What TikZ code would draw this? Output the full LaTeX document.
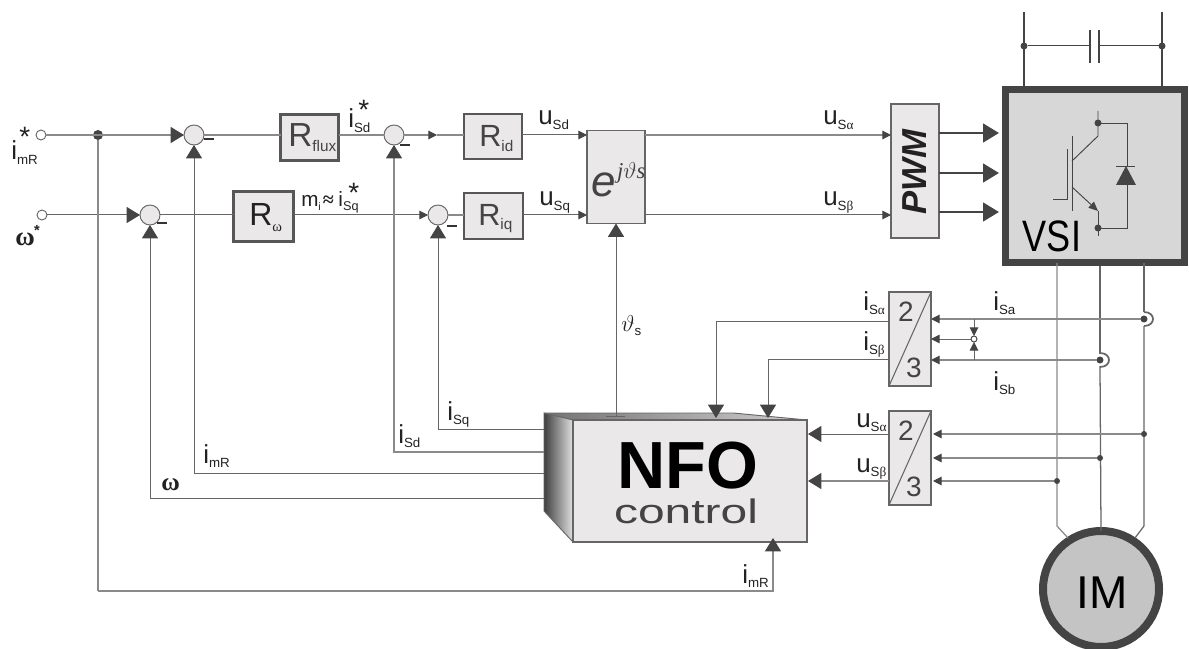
\documentclass[tikz,border=0pt]{standalone}
\usepackage{fontspec}
\setmainfont{Liberation Sans}
\newfontfamily\grfont{Liberation Serif}
\usetikzlibrary{arrows.meta,calc}
\definecolor{linec}{HTML}{666666}
\definecolor{lightl}{HTML}{8A8A8A}
\definecolor{tipc}{HTML}{444444}
\definecolor{boxf}{HTML}{EAE8E9}
\definecolor{txtc}{HTML}{222222}
\definecolor{dark}{HTML}{444444}
\newcommand{\fs}[1]{\fontsize{#1}{#1}\selectfont}
\newcommand{\lb}[2]{{\fs{19.5}#1}\raisebox{-3.6pt}{\fs{10}#2}}
\newcommand{\starat}[2]{\rlap{\hspace{#1}\raisebox{#2}{\fs{21}*}}}
\newcommand{\ga}{{\grfont α}}
\newcommand{\gb}{{\grfont β}}
\tikzset{
  x=0.75pt,y=-0.75pt,
  wire/.style={draw=linec,line width=0.75pt},
  lwire/.style={draw=lightl,line width=0.85pt},
  bigtip/.style={-{Triangle[length=10pt,width=12pt,color=tipc]}},
  smalltip/.style={-{Triangle[length=6.5pt,width=6.5pt,color=tipc]}},
  thicktip/.style={draw=tipc,line width=2pt,-{Triangle[length=12pt,width=14pt,color=tipc]}},
  sz/.style 2 args={minimum width=#1*0.75pt,minimum height=#2*0.75pt},
  bx/.style={draw=linec,fill=boxf,line width=0.9pt,inner sep=0pt,outer sep=0pt},
  rbox/.style={draw=dark!90,fill=boxf,line width=2pt,inner sep=0pt,outer sep=0pt},
  sumc/.style={circle,draw=linec,fill=boxf,line width=0.7pt,minimum size=15pt,inner sep=0pt,outer sep=0pt},
  inc/.style={circle,draw=linec,fill=white,line width=0.7pt,minimum size=7.5pt,inner sep=0pt,outer sep=0pt},
  dotn/.style={circle,fill=tipc,minimum size=#1*0.75pt,inner sep=0pt,outer sep=0pt},
  lab/.style={anchor=base west,inner sep=0pt,text=txtc},
  dtext/.style={anchor=base west,inner sep=0pt,text=dark},
  minus/.style={draw=black!80,line width=0.8pt},
}
\begin{document}
\begin{tikzpicture}
\useasboundingbox (0,0) rectangle (1189,649);
% ---------- blocks
\node[inc] (in1) at (41,135) {};
\node[inc] (in2) at (42,215) {};
\node[dotn=10] (j1) at (98,135) {};
\node[sumc] (sum1) at (194,135) {};
\node[sumc] (sum2) at (394,135) {};
\node[sumc] (sum3) at (150,215) {};
\node[sumc] (sum4) at (438,215) {};
\node[rbox,sz={58}{46}] (rflux) at (309.5,137.5) {};
\node[rbox,sz={60}{50}] (rw) at (263.5,216.5) {};
\node[rbox,sz={58}{45}] (rid) at (493,136.5) {};
\node[rbox,sz={59}{46}] (riq) at (493.5,216) {};
\node[bx,sz={58}{93}] (ejt) at (616,177) {};
\node[bx,sz={48}{134}] (pwm) at (915,171) {};
\node[draw=dark,fill=black!15.5,line width=5pt,inner sep=0pt,outer sep=0pt,sz={179.5}{173.5}] (vsi) at (1095,176) {};
\node[circle,draw=dark,fill=black!23,line width=6pt,inner sep=0pt,outer sep=0pt,minimum size=87pt] (im) at (1101,589) {};
\node[bx,sz={42}{94}] (ta) at (910,339) {};
\node[bx,sz={42}{94}] (tb) at (910,458) {};
\draw[linec,line width=0.8pt] (ta.south west) -- (ta.north east);
\draw[linec,line width=0.8pt] (tb.south west) -- (tb.north east);
% NFO block
\coordinate (nl1) at (544,413);
\coordinate (nl2) at (573,420);
\coordinate (nl3) at (573,542);
\coordinate (nl4) at (544,511);
\coordinate (nt2) at (733,413);
\coordinate (nt3) at (807,420);
\shade[left color=black!75,right color=black!12] (nl1) -- (nl2) -- (nl3) -- (nl4) -- cycle;
\shade[left color=black!55,right color=black!18] (nl1) -- (nt2) -- (nt3) -- (nl2) -- cycle;
\draw[linec,line width=0.7pt] (nl1) -- (nl2) -- (nl3) -- (nl4) -- cycle;
\draw[linec,line width=0.7pt] (nl1) -- (nt2) -- (nt3);
\node[bx,sz={234}{122}] (nfo) at (690,481) {};
% ---------- forward path
\draw[lwire,bigtip] (in1) -- (sum1);
\draw[lwire] (sum1) -- (sum1 -| rflux.west);
\draw[lwire] (sum2 -| rflux.east) -- (sum2);
\coordinate (t2) at (437,135);
\draw[lwire,smalltip] (sum2) -- (t2);
\draw[lwire] (t2) -- (t2 -| rid.west);
\draw[wire,bigtip] (in2) -- (sum3);
\draw[wire] (sum3) -- (sum3 -| rw.west);
\draw[wire,smalltip] (sum4 -| rw.east) -- (sum4);
\draw[lwire] (sum4) -- (sum4 -| riq.west);
\draw[wire,smalltip] (t2 -| rid.east) -- (t2 -| ejt.west);
\draw[wire,smalltip] (sum4 -| riq.east) -- (sum4 -| ejt.west);
\draw[lwire,smalltip] (t2 -| ejt.east) -- (t2 -| pwm.west);
\draw[wire,smalltip] (sum4 -| ejt.east) -- (sum4 -| pwm.west);
\coordinate (va) at (999,133);
\coordinate (vb) at (999,173);
\coordinate (vc) at (999,212);
\draw[thicktip] (va -| pwm.east) -- (va);
\draw[thicktip] (vb -| pwm.east) -- (vb);
\draw[thicktip] (vc -| pwm.east) -- (vc);
% ---------- feedback
\coordinate (c1) at (98,591);
\coordinate (imrt) at (773,538);
\draw[lwire] (j1) -- (c1);
\draw[lwire,bigtip] (c1) -| (imrt);
\coordinate (fq) at (544,429);
\coordinate (fd) at (544,452);
\coordinate (fm) at (544,473);
\coordinate (fw) at (544,498);
\draw[wire,bigtip] (fq) -| (sum4);
\draw[lwire,bigtip] (fd) -| (sum2);
\draw[wire,bigtip] (fm) -| (sum1);
\draw[wire,bigtip] (fw) -| (sum3);
\coordinate (th) at (616,416);
\draw[wire,bigtip] (th) -- (ejt.south);
\draw[wire] (606,416) -- (625,416);
\coordinate (na) at (716,418);
\coordinate (nb) at (768,418);
\draw[wire,bigtip] (ta.west |- 0,321) -| (na);
\draw[wire,bigtip] (ta.west |- 0,359) -| (nb);
\coordinate (ua) at (808,434);
\coordinate (ub) at (808,481);
\draw[wire,bigtip] (ua -| tb.west) -- (ua);
\draw[lwire,bigtip] (ub -| tb.west) -- (ub);
% ---------- power lines
\coordinate (p1) at (1057,526);
\coordinate (p3) at (1144,526);
\coordinate (m1) at (1068,538);
\coordinate (m3) at (1135,538);
\draw[lightl,line width=0.95pt] (p1 |- vsi.south) -- (p1) -- (m1);
\draw[linec,line width=0.95pt] (1100,266) -- (1100,354);
\draw[linec,line width=0.95pt] (1100,366) -- (im.north);
\draw[linec,line width=0.95pt] (p3 |- vsi.south) -- (1144,312);
\draw[linec,line width=0.95pt] (1144,326) -- (p3) -- (m3);
\draw[linec,line width=1.3pt] (1144,312) .. controls (1156,312) and (1156,326) .. (1144,326);
\draw[linec,line width=1.3pt] (1100,353) .. controls (1112,353) and (1112,367) .. (1100,367);
% ---------- measurement
\node[dotn=7] (sa) at (1144,319) {};
\node[dotn=7] (sb) at (1100,360) {};
\node[dotn=6] (sc) at (1144,434) {};
\node[dotn=6] (sd) at (1100,458) {};
\node[dotn=6] (se) at (1057,481) {};
\node[circle,draw=dark,fill=white,line width=0.7pt,minimum size=4.5pt,inner sep=0pt,outer sep=0pt] (jc) at (974,339) {};
\coordinate (jta) at (974,319);
\coordinate (jtb) at (974,360);
\coordinate (tia) at (931,319);
\coordinate (tib) at (931,339);
\coordinate (tic) at (931,360);
\coordinate (tua) at (933,434);
\coordinate (tub) at (933,458);
\coordinate (tuc) at (933,481);
\draw[lwire,smalltip] (sa) -- (tia);
\draw[wire,smalltip] (jc) -- (tib);
\draw[lwire,smalltip] (sb) -- (tic);
\draw[lwire,smalltip] (sc) -- (tua);
\draw[lwire,smalltip] (sd) -- (tub);
\draw[lwire,smalltip] (se) -- (tuc);
\draw[wire,smalltip] (jta) -- (jc.north);
\draw[wire,smalltip] (jtb) -- (jc.south);
% ---------- DC link
\coordinate (d1) at (1024,12);
\coordinate (d2) at (1162,12);
\draw[dark,line width=1.6pt] (d1) -- (d1 |- vsi.north);
\draw[dark,line width=1.6pt] (d2) -- (d2 |- vsi.north);
\node[dotn=7] (dl) at (1024,46) {};
\node[dotn=7] (dr) at (1162,46) {};
\coordinate (cl) at (1090,46);
\coordinate (cr) at (1099,46);
\draw[wire,draw=dark] (dl) -- (cl);
\draw[wire,draw=dark] (cr) -- (dr);
\draw[dark,line width=1.8pt] (1090,30) -- (1090,63);
\draw[dark,line width=1.8pt] (1099,30) -- (1099,63);
% ---------- IGBT symbol
\begin{scope}[draw=dark,line width=0.7pt]
\draw (1072,136) -- (1072,211);
\draw (1053,199) -- (1067,199) -- (1067,149);
\draw (1072,161) -- (1098,136) -- (1098,111);
\draw[-{Triangle[length=7pt,width=6pt,color=tipc]}] (1072,187) -- (1098,211);
\draw (1098,211) -- (1098,236);
\draw (1098,123) -- (1127,123) -- (1127,166);
\draw (1116,166) -- (1135,166);
\fill[dark] (1126,166) -- (1116,185) -- (1136,185) -- cycle;
\draw (1127,185) -- (1127,228) -- (1098,228);
\fill[dark] (1098,123) circle[radius=3.5];
\fill[dark] (1098,228) circle[radius=3.5];
\end{scope}
% ---------- minus signs
\draw[minus] (204,139) -- (214,139);
\draw[minus] (400,145) -- (410,145);
\draw[minus] (157,223) -- (167,223);
\draw[minus] (447,226) -- (457,226);
% ---------- texts
\node[lab] (l1) at (11,160) {\starat{6pt}{9.75pt}\lb{i}{mR}};
\node[lab] (l2) at (15,245) {\grfont\fs{20}\bfseries ω\rlap{\hspace{-0.5pt}\raisebox{7.5pt}{\fontspec{Liberation Sans}\fs{11}*}}};
\node[lab] (l3) at (348,128) {\starat{7.5pt}{6pt}\lb{i}{Sd}};
\node[lab] (l4) at (301,207) {\starat{35.25pt}{3pt}{\fs{15.5}m}\raisebox{-2.5pt}{\fs{8}i}\hspace{1.5pt}{\grfont\fs{15}\bfseries ≈}\hspace{3.5pt}{\fs{15.5}i}\raisebox{-3pt}{\fs{9.5}Sq}};
\node[lab] (l5) at (538,125) {\lb{u}{Sd}};
\node[lab] (l6) at (539,206) {\lb{u}{Sq}};
\node[lab] (l7) at (823,125) {\lb{u}{S\ga}};
\node[lab] (l8) at (823,206) {\lb{u}{S\gb}};
\node[lab] (l9) at (621,331) {{\fs{16}$\vartheta$}\raisebox{-3pt}{\fs{10}s}};
\node[lab] (l10) at (863,310) {\lb{i}{S\ga}};
\node[lab] (l11) at (863,350) {\lb{i}{S\gb}};
\node[lab] (l12) at (993,310) {\lb{i}{Sa}};
\node[lab] (l13) at (993,390) {\lb{i}{Sb}};
\node[lab] (l14) at (856,427) {\lb{u}{S\ga}};
\node[lab] (l15) at (856,472) {\lb{u}{S\gb}};
\node[lab] (l16) at (447,420) {\lb{i}{Sq}};
\node[lab] (l17) at (398,443) {\lb{i}{Sd}};
\node[lab] (l18) at (203,463) {\lb{i}{mR}};
\node[lab] (l19) at (161,490) {\grfont\fs{19}\bfseries ω};
\node[lab] (l20) at (742,583) {\lb{i}{mR}};
\node[dtext] (t1) at (288,147) {\fs{25}R\raisebox{-3.5pt}{\fs{11.5}flux}};
\node[lab] (t2t) at (249,225) {\fs{24}R\raisebox{-5pt}{\grfont\fs{11}ω}};
\node[dtext] (t3) at (479,147) {\fs{23}R\raisebox{-3.5pt}{\fs{11.5}id}};
\node[dtext] (t4) at (478,225) {\fs{23}R\raisebox{-3.5pt}{\fs{11.5}iq}};
\node[dtext] (t5) at (591,197) {\itshape\fs{33}e\grfont\fs{17}\raisebox{14pt}{\hspace{1pt}j$\vartheta$s}};
\node[lab,rotate=90,anchor=center,text=txtc] (t7) at (915,172) {\bfseries\itshape\fs{26}PWM};
\node[lab,text=black] (t8) at (617,488) {\bfseries\fs{50}NFO};
\node[dtext,xscale=1.41,transform shape,anchor=base] (t9) at (686,523) {\fs{25.5}control};
\node[lab,text=black,xscale=0.82,transform shape,anchor=base] (t10) at (1052,252) {\fs{33}VSI};
\node[lab,text=black,anchor=base] (t11) at (1102,608) {\fs{34.5}IM};
\node[dtext,anchor=base] (d1t) at (906,321) {\fs{21}2};
\node[dtext,anchor=base] (d2t) at (914,377) {\fs{21}3};
\node[dtext,anchor=base] (d3t) at (906,440) {\fs{21}2};
\node[dtext,anchor=base] (d4t) at (914,496) {\fs{21}3};
\end{tikzpicture}
\end{document}
